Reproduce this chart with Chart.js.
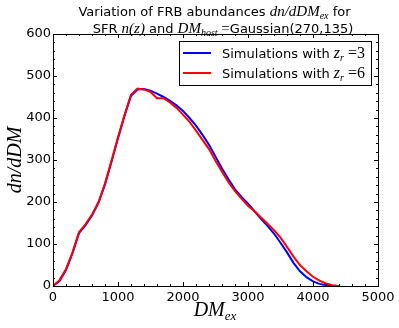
<!DOCTYPE html>
<html>
<head>
<meta charset="utf-8">
<script src="https://cdn.jsdelivr.net/npm/chart.js@4.4.1/dist/chart.umd.min.js"></script>
<style>
  body { margin: 0; background: #fff; }
  #wrap { width: 399px; height: 328px; }
</style>
</head>
<body>
<div id="wrap"><canvas id="chartContainer" width="399" height="328"></canvas></div>
<script>
// DM_ex grid shared by both curves
var dmValues = [0,100,200,300,400,500,600,700,800,900,1000,1100,1200,1300,1400,1500,1600,1700,1800,1900,2000,
                2100,2200,2300,2400,2500,2600,2700,2800,2900,3000,3100,3200,3300,3400,3500,3600,3700,3800,3900,
                4000,4100,4200,4300,4400];
// z_r = 3
var blueValues = [0,12,38,78,126,145,168,198,242,296,352,405,453,468,469,465,458,450,441,430,417,
                  400,382,360,336,308,280,254,230,212,196,178,160,143,125,103,80,55,35,21,
                  11,5,2,0.5,0];
// z_r = 6
var redValues = [0,14,40,80,128,147,170,200,244,298,354,407,455,470,468,462,447,447,437,424,408,
                 391,370,348,326,298,272,247,226,208,191,178,163,148,133,115,93,70,50,35,
                 22,13,6,2,0];
var xTicks = [0,1000,2000,3000,4000,5000];
var yTicks = [0,100,200,300,400,500,600];

var SANS = "'DejaVu Sans', sans-serif";
var SERIF = "'Liberation Serif', serif";

function pts(xs, ys){
    var out = [];
    for(var i=0;i<xs.length;i++){ out.push({x: xs[i], y: ys[i]}); }
    return out;
}

function runsWidth(ctx, runs){
    var w = 0;
    for(var i=0;i<runs.length;i++){ ctx.font = runs[i].f; w += ctx.measureText(runs[i].t).width; }
    return w;
}
function drawRuns(ctx, runs, x, y, center){
    if(center){ x = x - runsWidth(ctx, runs)/2; }
    ctx.textAlign = "left";
    ctx.textBaseline = "alphabetic";
    for(var i=0;i<runs.length;i++){
        ctx.font = runs[i].f;
        ctx.fillText(runs[i].t, x, y + (runs[i].dy || 0));
        x += ctx.measureText(runs[i].t).width;
    }
}

var decorations = {
    id: 'decorations',
    afterDraw: function(chart){
        var ctx = chart.ctx, a = chart.chartArea;
        var xs = chart.scales.x, ys = chart.scales.y;
        ctx.save();
        ctx.strokeStyle = "#000";
        ctx.lineWidth = 1;
        // frame
        ctx.strokeRect(Math.round(a.left)+0.5, Math.round(a.top)+0.5, Math.round(a.right-a.left), Math.round(a.bottom-a.top));
        // inward ticks on all four sides
        ctx.beginPath();
        for(var v=0; v<=5000; v+=200){
            var px = Math.round(xs.getPixelForValue(v))+0.5;
            var len = (v % 1000 === 0) ? 4 : 2;
            ctx.moveTo(px, a.bottom); ctx.lineTo(px, a.bottom-len);
            ctx.moveTo(px, a.top); ctx.lineTo(px, a.top+len);
        }
        for(var w=0; w<=600; w+=20){
            var py = Math.round(ys.getPixelForValue(w))+0.5;
            var l2 = (w % 100 === 0) ? 4 : 2;
            ctx.moveTo(a.left, py); ctx.lineTo(a.left+l2, py);
            ctx.moveTo(a.right, py); ctx.lineTo(a.right-l2, py);
        }
        ctx.stroke();

        ctx.fillStyle = "#000";
        // title
        drawRuns(ctx, [
            {t:"Variation of FRB abundances ", f:"13px "+SANS},
            {t:"dn/dDM", f:"italic 15px "+SERIF},
            {t:"ex", f:"italic 10px "+SERIF, dy:3},
            {t:" for", f:"13px "+SANS}
        ], 214.5, 16, true);
        drawRuns(ctx, [
            {t:"SFR ", f:"13px "+SANS},
            {t:"n(z)", f:"italic 15px "+SERIF},
            {t:" and ", f:"13px "+SANS},
            {t:"DM", f:"italic 15px "+SERIF},
            {t:"host", f:"italic 10px "+SERIF, dy:3},
            {t:" =", f:"15px "+SERIF},
            {t:"Gaussian(270,135)", f:"13px "+SANS}
        ], 223, 33, true);

        // axis titles
        drawRuns(ctx, [
            {t:"DM", f:"italic 20px "+SERIF},
            {t:"ex", f:"italic 13px "+SERIF, dy:4}
        ], 215, 316, true);
        ctx.save();
        ctx.translate(21, 160);
        ctx.rotate(-Math.PI/2);
        drawRuns(ctx, [{t:"dn/dDM", f:"italic 20px "+SERIF}], 0, 0, true);
        ctx.restore();

        // legend
        ctx.fillStyle = "#fff";
        ctx.fillRect(179.5, 41.5, 192, 44);
        ctx.strokeRect(179.5, 41.5, 192, 44);
        var names = [["3", "#0000ff", 53], ["6", "#ff0000", 73]];
        for(var k=0;k<names.length;k++){
            ctx.strokeStyle = names[k][1];
            ctx.lineWidth = 2;
            ctx.beginPath();
            ctx.moveTo(183, names[k][2]); ctx.lineTo(211, names[k][2]);
            ctx.stroke();
            ctx.fillStyle = "#000";
            drawRuns(ctx, [
                {t:"Simulations with ", f:"13px "+SANS},
                {t:"z", f:"italic 16px "+SERIF},
                {t:"r", f:"italic 10px "+SERIF, dy:3},
                {t:" =" + names[k][0], f:"16px "+SERIF}
            ], 222, names[k][2]+5, false);
        }
        ctx.restore();
    }
};

var myChart = new Chart('chartContainer', {
    type: 'line',
    data: {
        datasets: [{
            label: 'Simulations with z_r=6',
            data: pts(dmValues, redValues),
            borderColor: '#ff0000',
            borderWidth: 2,
            pointRadius: 0,
            fill: false,
            order: 0
        }, {
            label: 'Simulations with z_r=3',
            data: pts(dmValues, blueValues),
            borderColor: '#0000ff',
            borderWidth: 2,
            pointRadius: 0,
            fill: false,
            order: 1
        }]
    },
    options: {
        responsive: false,
        animation: false,
        layout: { padding: { left: 0, top: 34, right: 21, bottom: 0 } },
        plugins: { legend: { display: false }, title: { display: false }, tooltip: { enabled: false } },
        scales: {
            x: {
                type: 'linear', min: 0, max: 5000,
                afterBuildTicks: function(s){ s.ticks = xTicks.map(function(v){ return {value: v}; }); },
                afterFit: function(s){ s.height = 42; },
                grid: { display: false, drawTicks: false },
                border: { display: false },
                ticks: { color: '#000', padding: 4, maxRotation: 0, font: { family: "DejaVu Sans", size: 13 },
                         callback: function(v){ return String(v); } }
            },
            y: {
                type: 'linear', min: 0, max: 600,
                afterBuildTicks: function(s){ s.ticks = yTicks.map(function(v){ return {value: v}; }); },
                afterFit: function(s){ s.width = 53; },
                grid: { display: false, drawTicks: false },
                border: { display: false },
                ticks: { color: '#000', padding: 2, font: { family: "DejaVu Sans", size: 13 },
                         callback: function(v){ return String(v); } }
            }
        }
    },
    plugins: [decorations]
});
</script>
</body>
</html>
